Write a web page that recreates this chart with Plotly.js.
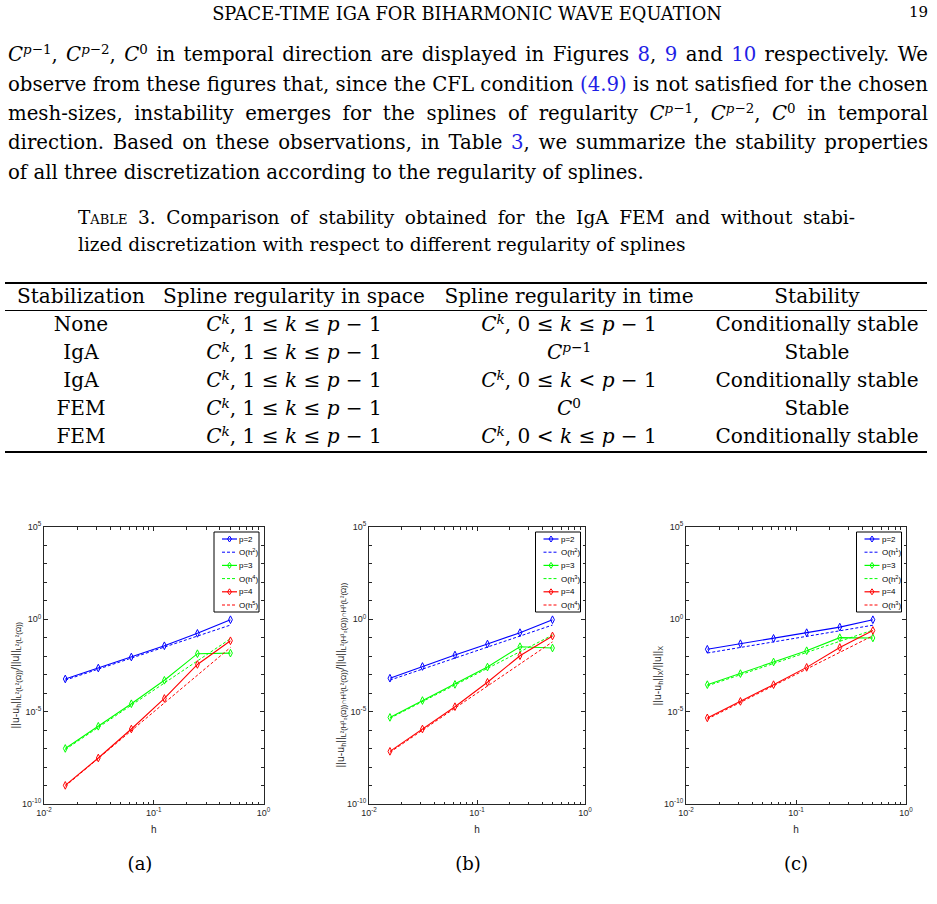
<!DOCTYPE html>
<html>
<head>
<meta charset="utf-8">
<script src="https://cdn.plot.ly/plotly-3.0.1.min.js"></script>
<style>
  html, body { margin: 0; padding: 0; background: #fff; }
  body { width: 937px; height: 904px; overflow: hidden; position: relative;
         font-family: "DejaVu Serif", serif; color: #000; }
  #plots { position: absolute; left: 0; top: 0; width: 937px; height: 904px; z-index: 0; }
  .t { position: absolute; white-space: nowrap; z-index: 1; font-family: "DejaVu Serif", serif; }
  .line { position: absolute; left: 8px; width: 920px; font-size: 19px; line-height: 29px;
          text-align: justify; text-align-last: justify; white-space: nowrap; z-index: 1;
          font-family: "DejaVu Serif", serif; }
  .line.last { text-align-last: left; }
  .cap { position: absolute; left: 78px; font-size: 17px; line-height: 26px; white-space: nowrap; z-index: 1;
         font-family: "DejaVu Serif", serif; }
  .c { transform: translateX(-50%); }
  .r { transform: translateX(-100%); }
  .tab { font-size: 19px; line-height: 26px; }
  sup { font-size: 0.68em; vertical-align: 0; position: relative; top: -0.55em; line-height: 0; }
  .ln { color: #1f1fe6; }
  .sc { font-variant: small-caps; }
  .rule { position: absolute; left: 5px; width: 922px; background: #000; z-index: 1; }
</style>
</head>
<body>
<div id="plots"></div>

<!-- running head -->
<div id="head" class="t c" style="left:467px; top:3px; font-size:15px;">SPACE-TIME IGA FOR BIHARMONIC WAVE EQUATION</div>
<div class="t r" style="left:928px; top:3px; font-size:15px;">19</div>

<!-- paragraph -->
<div class="line" style="top:40px;"><i>C</i><sup><i>p</i>−1</sup>, <i>C</i><sup><i>p</i>−2</sup>, <i>C</i><sup>0</sup> in temporal direction are displayed in Figures <span class="ln">8</span>, <span class="ln">9</span> and <span class="ln">10</span> respectively. We</div>
<div class="line" style="top:69.5px;">observe from these figures that, since the CFL condition <span class="ln">(4.9)</span> is not satisfied for the chosen</div>
<div class="line" style="top:99px;">mesh-sizes, instability emerges for the splines of regularity <i>C</i><sup><i>p</i>−1</sup>, <i>C</i><sup><i>p</i>−2</sup>, <i>C</i><sup>0</sup> in temporal</div>
<div class="line" style="top:128px;">direction. Based on these observations, in Table <span class="ln">3</span>, we summarize the stability properties</div>
<div class="line last" style="top:157.5px;">of all three discretization according to the regularity of splines.</div>

<!-- table caption -->
<div class="cap" id="cap1" style="top:205px; width:777px; text-align:justify; text-align-last:justify;"><span class="sc">Table</span> 3. Comparison of stability obtained for the IgA FEM and without stabi-</div>
<div class="cap" id="cap2" style="top:232px;">lized discretization with respect to different regularity of splines</div>

<!-- table rules -->
<div class="rule" style="top:282px; height:2px;"></div>
<div class="rule" style="top:310px; height:1px;"></div>
<div class="rule" style="top:451px; height:2px;"></div>

<div id="tbl"></div>

<!-- sub-figure labels -->
<div class="t c" style="left:140px; top:853px; font-size:18px;">(a)</div>
<div class="t c" style="left:468px; top:853px; font-size:18px;">(b)</div>
<div class="t c" style="left:796px; top:853px; font-size:18px;">(c)</div>

<script>
// ---------- Table 3 contents ----------
const tblHeader = ["Stabilization", "Spline regularity in space", "Spline regularity in time", "Stability"];
const tblStab   = ["None", "IgA", "IgA", "FEM", "FEM"];
const tblSpace  = [
  "<i>C<sup>k</sup></i>, 1 ≤ <i>k</i> ≤ <i>p</i> − 1",
  "<i>C<sup>k</sup></i>, 1 ≤ <i>k</i> ≤ <i>p</i> − 1",
  "<i>C<sup>k</sup></i>, 1 ≤ <i>k</i> ≤ <i>p</i> − 1",
  "<i>C<sup>k</sup></i>, 1 ≤ <i>k</i> ≤ <i>p</i> − 1",
  "<i>C<sup>k</sup></i>, 1 ≤ <i>k</i> ≤ <i>p</i> − 1"];
const tblTime   = [
  "<i>C<sup>k</sup></i>, 0 ≤ <i>k</i> ≤ <i>p</i> − 1",
  "<i>C</i><sup><i>p</i>−1</sup>",
  "<i>C<sup>k</sup></i>, 0 ≤ <i>k</i> &lt; <i>p</i> − 1",
  "<i>C</i><sup>0</sup>",
  "<i>C<sup>k</sup></i>, 0 &lt; <i>k</i> ≤ <i>p</i> − 1"];
const tblResult = ["Conditionally stable", "Stable", "Conditionally stable", "Stable", "Conditionally stable"];

// width of an element's content as if it were left aligned
function contentWidth(el) {
  const ta = el.style.textAlign, tal = el.style.textAlignLast;
  el.style.textAlign = "left"; el.style.textAlignLast = "left";
  const r = document.createRange(); r.selectNodeContents(el);
  const w = r.getBoundingClientRect().width;
  el.style.textAlign = ta; el.style.textAlignLast = tal;
  return w;
}
// pick one font size so every element fits its target width
function fitGroup(els, targets) {
  let ratio = Infinity;
  els.forEach((el, i) => {
    const fs = parseFloat(getComputedStyle(el).fontSize);
    ratio = Math.min(ratio, targets[i] / contentWidth(el));
    el.dataset.fs = fs;
  });
  els.forEach(el => { el.style.fontSize = (parseFloat(el.dataset.fs) * ratio) + "px"; });
}

const tableCells = [];
(function buildTable() {
  const colX = [81, 294, 569, 817];
  const headTop = 283, rowTops = [311, 339, 367, 395, 423];
  const host = document.getElementById("tbl");
  function cell(html, x, top) {
    const d = document.createElement("div");
    d.className = "t c tab";
    d.style.left = x + "px";
    d.style.top = top + "px";
    d.innerHTML = html;
    host.appendChild(d);
    tableCells.push(d);
    return d;
  }
  tblHeader.forEach((s, i) => cell(s, colX[i], headTop));
  for (let r = 0; r < tblStab.length; r++) {
    cell(tblStab[r], colX[0], rowTops[r]);
    cell(tblSpace[r], colX[1], rowTops[r]);
    cell(tblTime[r], colX[2], rowTops[r]);
    cell(tblResult[r], colX[3], rowTops[r]);
  }
})();

// text sizing
(function sizeText() {
  const lines = Array.from(document.querySelectorAll(".line"));
  fitGroup(lines, [920, 920, 920, 920, 672]);
  fitGroup([document.getElementById("cap1"), document.getElementById("cap2")], [777, 608]);
  const head = document.getElementById("head");
  fitGroup([head], [510]);
  // header "Spline regularity in space" and "Conditionally stable"
  const tgt = tableCells.map(() => 9999);
  tgt[1] = 262; tgt[2] = 250; tgt[7] = 206;
  fitGroup(tableCells, tgt);
})();

// ---------- convergence data ----------
const h = [0.015625, 0.03125, 0.0625, 0.125, 0.25, 0.5];

// (a) L2(L2) error
const errA_p2 = [5.9e-4, 2.3e-3, 9.1e-3, 3.7e-2, 0.174, 0.955];
const refA_p2 = [5.1e-4, 2.0e-3, 7.9e-3, 3.2e-2, 0.123, 0.49];
const errA_p3 = [1.02e-7, 1.62e-6, 2.69e-5, 5.0e-4, 1.38e-2, 1.48e-2];
const refA_p3 = [8.9e-8, 1.41e-6, 2.24e-5, 3.55e-4, 5.6e-3, 8.9e-2];
const errA_p4 = [1.02e-9, 3.1e-8, 1.15e-6, 5.2e-5, 3.6e-3, 6.9e-2];
const refA_p4 = [9.3e-10, 2.95e-8, 9.5e-7, 3.0e-5, 9.5e-4, 3.0e-2];
const rateA = [2, 4, 5];

// (b) L2(H1_0) ∩ H1(L2) error
const errB_p2 = [6.5e-4, 2.8e-3, 1.17e-2, 4.6e-2, 0.19, 0.95];
const refB_p2 = [5.1e-4, 2.0e-3, 7.9e-3, 3.2e-2, 0.123, 0.49];
const errB_p3 = [4.9e-6, 4.0e-5, 3.0e-4, 2.6e-3, 3.3e-2, 2.8e-2];
const refB_p3 = [4.4e-6, 3.5e-5, 2.75e-4, 2.2e-3, 1.8e-2, 0.14];
const errB_p4 = [7.1e-8, 1.15e-6, 1.86e-5, 3.9e-4, 1.07e-2, 0.126];
const refB_p4 = [6.3e-8, 1.0e-6, 1.55e-5, 2.45e-4, 3.8e-3, 6.0e-2];
const rateB = [2, 3, 4];

// (c) X-norm error
const errC_p2 = [2.4e-2, 4.8e-2, 9.3e-2, 0.19, 0.38, 0.95];
const refC_p2 = [1.5e-2, 3.0e-2, 6.0e-2, 0.12, 0.24, 0.48];
const errC_p3 = [2.9e-4, 1.15e-3, 4.9e-3, 2.0e-2, 0.102, 0.098];
const refC_p3 = [2.5e-4, 1.0e-3, 4.0e-3, 1.6e-2, 6.5e-2, 0.26];
const errC_p4 = [4.6e-6, 3.6e-5, 2.9e-4, 2.5e-3, 3.0e-2, 0.25];
const refC_p4 = [4.0e-6, 3.2e-5, 2.5e-4, 2.0e-3, 1.6e-2, 0.13];
const rateC = [1, 2, 3];

const degrees = ["p=2", "p=3", "p=4"];
const colors = ["#0000ff", "#00ff00", "#ff0000"];

const yTitles = [
  "||u-u<sub>h</sub>||<sub>L²(L²(Ω))</sub>/||u||<sub>L²(L²(Ω))</sub>",
  "||u-u<sub>h</sub>||<sub>L²(H¹₀(Ω))∩H¹(L²(Ω))</sub>/||u||<sub>L²(H¹₀(Ω))∩H¹(L²(Ω))</sub>",
  "||u-u<sub>h</sub>||<sub>X</sub>/||u||<sub>X</sub>"
];

// ---------- figure geometry (page pixels) ----------
const W = 937, H = 904;
const px = v => v / W;
const py = v => 1 - v / H;
const panels = [
  { left: 44,  right: 263.5, errs: [errA_p2, errA_p3, errA_p4], refs: [refA_p2, refA_p3, refA_p4], rates: rateA },
  { left: 369, right: 585,   errs: [errB_p2, errB_p3, errB_p4], refs: [refB_p2, refB_p3, refB_p4], rates: rateB },
  { left: 686, right: 906,   errs: [errC_p2, errC_p3, errC_p4], refs: [refC_p2, refC_p3, refC_p4], rates: rateC }
];
const axTop = 527, axBottom = 804;

const sans = "Liberation Sans, Arial, sans-serif";
const tickFont = { family: sans, size: 9, color: "#262626" };
const xMinor = [0.02,0.03,0.04,0.05,0.06,0.07,0.08,0.09,0.2,0.3,0.4,0.5,0.6,0.7,0.8,0.9];
const yMinor = [1e-9,1e-8,1e-7,1e-6,1e-4,1e-3,1e-2,1e-1,1e1,1e2,1e3,1e4];

const traces = [];
const shapes = [];
const annotations = [];
const layout = {
  width: W, height: H,
  margin: { l: 0, r: 0, t: 0, b: 0 },
  paper_bgcolor: "rgba(0,0,0,0)",
  plot_bgcolor: "#ffffff",
  showlegend: false,
  shapes: shapes,
  annotations: annotations
};

// compact boxed legend in the upper-right corner of each panel
function drawLegend(P) {
  const R = P.right - 4.5, L = R - 45, T = axTop + 5, B = T + 80;
  shapes.push({ type: "rect", xref: "paper", yref: "paper", layer: "above",
    x0: px(L), x1: px(R), y0: py(B), y1: py(T),
    line: { color: "#000", width: 1 }, fillcolor: "#fff" });
  const labels = [];
  for (let i = 0; i < 3; i++) {
    labels.push({ text: degrees[i], color: colors[i], solid: true });
    labels.push({ text: "O(h<sup>" + P.rates[i] + "</sup>)", color: colors[i], solid: false });
  }
  labels.forEach((e, j) => {
    const y = T + 7 + 13.2 * j;
    shapes.push({ type: "line", xref: "paper", yref: "paper", layer: "above",
      x0: px(L + 8), x1: px(L + 23), y0: py(y), y1: py(y),
      line: { color: e.color, width: e.solid ? 1.2 : 1, dash: e.solid ? "solid" : "3px,2px" } });
    if (e.solid) {
      const cx = L + 15.5;
      shapes.push({ type: "path", xref: "paper", yref: "paper", layer: "above",
        path: `M ${px(cx)},${py(y - 3)} L ${px(cx + 2)},${py(y)} L ${px(cx)},${py(y + 3)} L ${px(cx - 2)},${py(y)} Z`,
        line: { color: e.color, width: 1 }, fillcolor: "rgba(0,0,0,0)" });
    }
    annotations.push({ xref: "paper", yref: "paper", x: px(L + 23.5), y: py(y),
      xanchor: "left", yanchor: "middle", showarrow: false, text: e.text,
      font: { family: sans, size: 8, color: "#000" } });
  });
}

panels.forEach((P, k) => {
  const sfx = k === 0 ? "" : String(k + 1);
  const xa = "x" + sfx, ya = "y" + sfx;
  for (let i = 0; i < 3; i++) {
    traces.push({
      x: h, y: P.errs[i], xaxis: xa, yaxis: ya,
      type: "scatter", mode: "lines+markers", name: degrees[i],
      line: { color: colors[i], width: 1.1 },
      marker: { symbol: "diamond-tall-open", size: 5.5, color: colors[i], line: { width: 1, color: colors[i] } }
    });
    traces.push({
      x: h, y: P.refs[i], xaxis: xa, yaxis: ya,
      type: "scatter", mode: "lines", name: "O(h<sup>" + P.rates[i] + "</sup>)",
      line: { color: colors[i], width: 1, dash: "3px,2px" }
    });
  }
  layout["xaxis" + sfx] = {
    type: "log", range: [-2, 0], domain: [px(P.left), px(P.right)], anchor: ya,
    showgrid: false, zeroline: false, showline: true, mirror: "ticks",
    linecolor: "#262626", linewidth: 1,
    ticks: "inside", ticklen: 4, tickcolor: "#262626",
    tickvals: [0.01, 0.1, 1], ticktext: ["10<sup>-2</sup>", "10<sup>-1</sup>", "10<sup>0</sup>"],
    tickfont: tickFont,
    minor: { tickvals: xMinor, ticks: "inside", ticklen: 2.5, tickcolor: "#262626", showgrid: false },
    title: { text: "h", font: { family: sans, size: 10, color: "#262626" }, standoff: 9 }
  };
  layout["yaxis" + sfx] = {
    type: "log", range: [-10, 5], domain: [py(axBottom), py(axTop)], anchor: xa,
    showgrid: false, zeroline: false, showline: true, mirror: "ticks",
    linecolor: "#262626", linewidth: 1,
    ticks: "inside", ticklen: 4, tickcolor: "#262626",
    tickvals: [1e-10, 1e-5, 1, 1e5], ticktext: ["10<sup>-10</sup>", "10<sup>-5</sup>", "10<sup>0</sup>", "10<sup>5</sup>"],
    tickfont: tickFont,
    minor: { tickvals: yMinor, ticks: "inside", ticklen: 2.5, tickcolor: "#262626", showgrid: false }
  };
  annotations.push({
    xref: "paper", yref: "paper", x: px(P.left - 29), y: py((axTop + axBottom) / 2 + 10),
    xanchor: "center", yanchor: "middle", textangle: -90, showarrow: false,
    text: yTitles[k],
    font: { family: sans, size: 10.5, color: "#262626" }
  });
  drawLegend(P);
});

Plotly.newPlot("plots", traces, layout, { displayModeBar: false, staticPlot: true });
</script>
</body>
</html>
